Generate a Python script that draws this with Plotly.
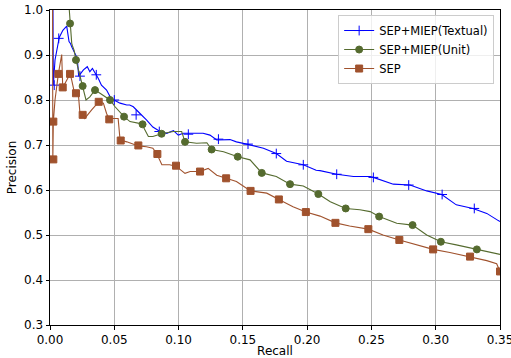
import plotly.graph_objects as go

# ---- data ----
textual_recall = [0.0023, 0.0026, 0.0039, 0.0072, 0.010, 0.013, 0.0148, 0.0160, 0.0169, 0.0194, 0.0212, 0.0223,
                  0.026, 0.029, 0.031, 0.033, 0.035, 0.0376, 0.040, 0.044, 0.047, 0.049, 0.0545, 0.0597, 0.062,
                  0.0648, 0.070, 0.0726, 0.075, 0.080, 0.0856, 0.0908, 0.096, 0.0998, 0.1037, 0.114, 0.119, 0.1244,
                  0.1297, 0.140, 0.145, 0.153, 0.1556, 0.166, 0.176, 0.184, 0.197, 0.207, 0.21, 0.223, 0.236, 0.249,
                  0.2515, 0.267, 0.28, 0.293, 0.3047, 0.316, 0.329, 0.3397, 0.3487, 0.35]
textual_precision = [1.0, 0.833, 0.889, 0.939, 0.955, 0.964, 0.930, 0.925, 0.918, 0.904, 0.893, 0.853,
                     0.867, 0.874, 0.863, 0.870, 0.861, 0.848, 0.833, 0.822, 0.806, 0.801, 0.793, 0.789, 0.789,
                     0.785, 0.770, 0.763, 0.756, 0.740, 0.730, 0.726, 0.732, 0.722, 0.726, 0.726, 0.726, 0.722,
                     0.711, 0.712, 0.707, 0.702, 0.700, 0.693, 0.681, 0.664, 0.656, 0.644, 0.643, 0.635, 0.630, 0.630,
                     0.628, 0.613, 0.611, 0.598, 0.590, 0.567, 0.559, 0.548, 0.532, 0.530]
textual_marker_recall = [0.0033, 0.0068, 0.0233, 0.036, 0.050, 0.067, 0.085, 0.1076, 0.131, 0.154, 0.176, 0.197,
                         0.223, 0.2515, 0.279, 0.305, 0.330]
textual_marker_precision = [0.833, 0.937, 0.853, 0.856, 0.800, 0.767, 0.730, 0.724, 0.713, 0.702, 0.681, 0.656,
                            0.635, 0.628, 0.611, 0.590, 0.559]

unit_recall = [0.0150, 0.0156, 0.0169, 0.0175, 0.0187, 0.0202, 0.0233, 0.0254, 0.028, 0.031, 0.035, 0.0389,
               0.0467, 0.0506, 0.0576, 0.0622, 0.0713, 0.0765, 0.080, 0.0868, 0.096, 0.1024, 0.105, 0.114, 0.122,
               0.1257, 0.135, 0.146, 0.1556, 0.1647, 0.176, 0.1867, 0.197, 0.2087, 0.218, 0.230, 0.241, 0.249,
               0.256, 0.2697, 0.282, 0.293, 0.304, 0.316, 0.332, 0.3487, 0.35]
unit_precision = [1.0, 0.970, 0.926, 0.920, 0.911, 0.889, 0.852, 0.831, 0.800, 0.807, 0.822, 0.815,
                  0.800, 0.785, 0.763, 0.752, 0.747, 0.719, 0.719, 0.725, 0.730, 0.730, 0.707, 0.704, 0.705,
                  0.690, 0.685, 0.674, 0.667, 0.638, 0.630, 0.613, 0.609, 0.591, 0.574, 0.559, 0.556, 0.552,
                  0.541, 0.526, 0.522, 0.500, 0.485, 0.478, 0.468, 0.458, 0.457]
unit_marker_recall = [0.0156, 0.0202, 0.0254, 0.035, 0.0467, 0.0576, 0.072, 0.0868, 0.105, 0.1257, 0.146,
                      0.1647, 0.1867, 0.2087, 0.230, 0.256, 0.282, 0.304, 0.332]
unit_marker_precision = [0.970, 0.889, 0.831, 0.822, 0.800, 0.763, 0.746, 0.725, 0.707, 0.690, 0.674,
                         0.638, 0.613, 0.591, 0.559, 0.541, 0.522, 0.485, 0.468]

sep_recall = [0.0020, 0.0022, 0.0026, 0.0039, 0.0065, 0.0091, 0.0099, 0.013, 0.0156, 0.0169, 0.0194, 0.022,
              0.0233, 0.0254, 0.027, 0.0324, 0.0379, 0.0415, 0.044, 0.0461, 0.049, 0.053, 0.0545, 0.0597, 0.0687,
              0.075, 0.080, 0.083, 0.087, 0.093, 0.098, 0.105, 0.109, 0.1167, 0.123, 0.1297, 0.137, 0.145, 0.156,
              0.1686, 0.178, 0.189, 0.199, 0.21, 0.222, 0.233, 0.2476, 0.259, 0.2717, 0.285, 0.298, 0.311,
              0.3267, 0.3397, 0.3474, 0.35]
sep_precision = [1.0, 0.667, 0.752, 0.800, 0.858, 0.901, 0.828, 0.844, 0.858, 0.844, 0.811, 0.815,
                 0.770, 0.767, 0.759, 0.778, 0.796, 0.793, 0.770, 0.757, 0.759, 0.759, 0.711, 0.707, 0.698,
                 0.696, 0.693, 0.681, 0.656, 0.656, 0.653, 0.637, 0.641, 0.641, 0.648, 0.633, 0.626, 0.619, 0.598,
                 0.593, 0.579, 0.563, 0.551, 0.542, 0.527, 0.520, 0.513, 0.500, 0.489, 0.478, 0.468, 0.461,
                 0.452, 0.443, 0.436, 0.419]
sep_marker_recall = [0.0026, 0.0026, 0.0065, 0.0099, 0.0156, 0.0202, 0.0254, 0.0379, 0.0461, 0.055, 0.0687,
                     0.0835, 0.098, 0.1167, 0.137, 0.156, 0.178, 0.199, 0.222, 0.2476, 0.2717, 0.298, 0.3267, 0.35]
sep_marker_precision = [0.668, 0.752, 0.858, 0.828, 0.858, 0.815, 0.767, 0.796, 0.757, 0.710, 0.699,
                        0.680, 0.654, 0.641, 0.626, 0.598, 0.579, 0.551, 0.527, 0.513, 0.489, 0.468, 0.452, 0.419]

x_ticks = [0.00, 0.05, 0.10, 0.15, 0.20, 0.25, 0.30, 0.35]
y_ticks = [0.3, 0.4, 0.5, 0.6, 0.7, 0.8, 0.9, 1.0]

series = [
    ("SEP+MIEP(Textual)", "#0000ff", "cross-thin-open", 7, textual_recall, textual_precision,
     textual_marker_recall, textual_marker_precision),
    ("SEP+MIEP(Unit)", "#556b2f", "circle", 7, unit_recall, unit_precision,
     unit_marker_recall, unit_marker_precision),
    ("SEP", "#a0522d", "square", 7, sep_recall, sep_precision,
     sep_marker_recall, sep_marker_precision),
]

fig = go.Figure()
for name, color, symbol, msize, xr, yp, mx, my in series:
    fig.add_trace(go.Scatter(x=xr, y=yp, mode="lines", line=dict(color=color, width=1.1),
                             showlegend=False, cliponaxis=True, hoverinfo="skip"))
    fig.add_trace(go.Scatter(x=mx, y=my, mode="markers",
                             marker=dict(symbol=symbol, size=msize, color=color,
                                         line=dict(color=color, width=1)),
                             showlegend=False, cliponaxis=True))
    fig.add_trace(go.Scatter(x=[None], y=[None], mode="lines+markers", name=name,
                             line=dict(color=color, width=1.1),
                             marker=dict(symbol=symbol, size=msize, color=color,
                                         line=dict(color=color, width=1))))

axis_common = dict(showline=True, linecolor="black", linewidth=1, mirror=True,
                   ticks="outside", ticklen=3.5, tickcolor="black", tickwidth=1,
                   showgrid=True, gridcolor="#b0b0b0", gridwidth=0.8, zeroline=False,
                   automargin=False, ticklabeloverflow="allow",
                   tickfont=dict(family="DejaVu Sans", size=12, color="black"),
                   title_font=dict(family="DejaVu Sans", size=12, color="black"))

fig.update_xaxes(range=[0, 0.35], tickvals=x_ticks, ticktext=[f"{v:.2f}" for v in x_ticks],
                 title_text="Recall", title_standoff=0, **axis_common)
fig.update_yaxes(range=[0.3, 1.0], tickvals=y_ticks, ticktext=[f"{v:.1f}" for v in y_ticks],
                 title_text="Precision", title_standoff=4, **axis_common)

fig.update_layout(
    width=511, height=358,
    margin=dict(l=50, r=11, t=10, b=33, autoexpand=False),
    plot_bgcolor="white", paper_bgcolor="white",
    font=dict(family="DejaVu Sans", size=12, color="black"),
    hovermode=False,
    legend=dict(x=0.987, y=0.984, xanchor="right", yanchor="top",
                bgcolor="rgba(255,255,255,0.8)", bordercolor="#cccccc", borderwidth=1,
                font=dict(family="DejaVu Sans", size=11.5, color="black"),
                itemwidth=30, tracegroupgap=0),
)

fig.write_html("out.html", config={"displayModeBar": False},
               post_script="document.body.style.margin='0px';")
